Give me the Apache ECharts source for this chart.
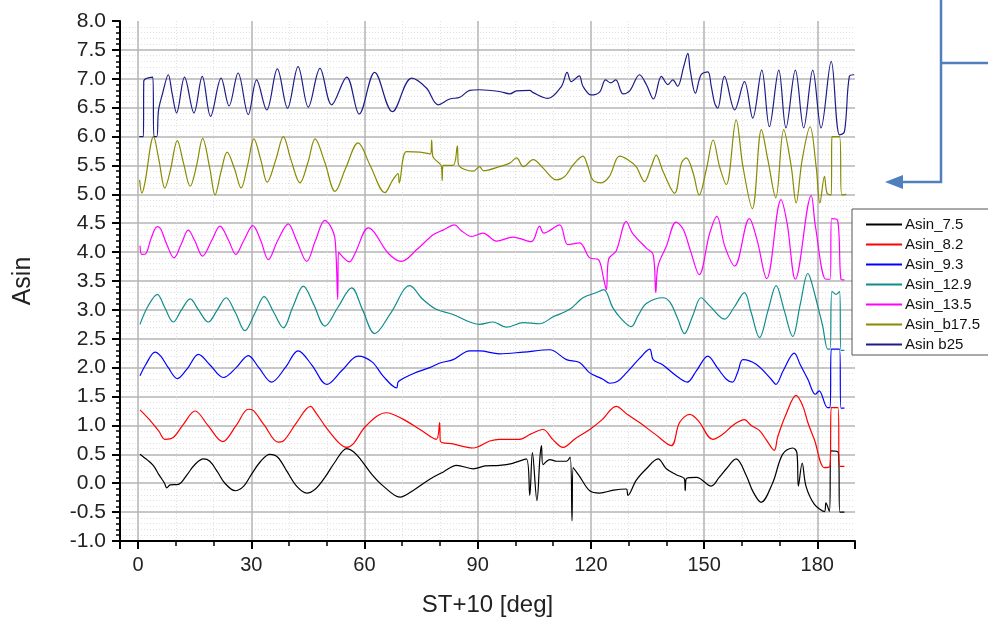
<!DOCTYPE html>
<html><head><meta charset="utf-8">
<script src="https://cdn.jsdelivr.net/npm/echarts@6/dist/echarts.min.js"></script>
<style>html,body{margin:0;padding:0;background:#fff}#c{width:988px;height:622px}</style>
</head><body><div id="c"></div>
<script>
// ---- data ([x deg, Asin]) ----
const seriesNames = ['Asin_7.5','Asin_8.2','Asin_9.3','Asin_12.9','Asin_13.5','Asin_b17.5','Asin b25'];
const seriesColors = ['#000000','#ff0000','#0000ff','#108c8c','#ff00ff','#8a8a00','#1c1c88'];
const xMin = -4.8, xMax = 190, xStep = 30;
const yMin = -1, yMax = 8, yStep = 0.5;

const s75 = [[0.5,0.50],[1.5,0.45],[2.5,0.40],[4.1,0.30],[5.5,0.15],[7.0,0.00],[7.6,-0.08],[8.5,-0.03],[10.7,-0.02],[13,0.15],[15,0.32],[17.3,0.42],[19,0.38],[21,0.20],[23,0.00],[25.7,-0.13],[28,-0.05],[30,0.15],[32.5,0.38],[34.9,0.50],[37,0.45],[39.5,0.20],[42,-0.05],[44.7,-0.17],[47,-0.10],[49.5,0.10],[52,0.35],[55.3,0.60],[57,0.55],[59,0.41],[62,0.15],[65,-0.05],[69.4,-0.24],[73,-0.12],[77.3,0.07],[81,0.20],[84.4,0.31],[88.8,0.25],[92,0.30],[95.8,0.31],[99,0.34],[102.9,0.42],[103.8,-0.21],[104.5,0.53],[105.7,-0.30],[106.5,0.45],[106.9,0.65],[107.3,0.32],[109.1,0.41],[111,0.38],[113.5,0.38],[114.5,0.45],[115,-0.65],[115.3,0.27],[117,0.12],[119.7,-0.13],[122.3,-0.17],[126,-0.12],[129.4,-0.10],[129.8,-0.21],[132,0.05],[134.7,0.25],[137.8,0.42],[140,0.25],[142.5,0.15],[144.8,0.07],[145,-0.13],[145.3,0.08],[148,0.10],[151.9,-0.05],[154,0.10],[155.9,0.25],[158.5,0.42],[161.2,0.13],[163,-0.15],[165.1,-0.33],[168.2,0.01],[170.8,0.50],[173.5,0.61],[174.6,0.53],[175.0,-0.05],[176.0,0.35],[177,-0.05],[179.2,-0.36],[181.9,-0.49],[182.3,-0.34],[183.2,-0.49],[183.7,0.56],[185.6,0.53],[186.0,-0.50],[187.2,-0.50]];
const s82 = [[0.5,1.27],[3,1.10],[5.5,0.90],[7.1,0.76],[9.3,0.79],[12,1.02],[15.1,1.25],[18.5,1.00],[22.4,0.72],[26,1.00],[29.2,1.28],[30.5,1.26],[33.5,1.00],[37.1,0.71],[38.5,0.73],[42,1.05],[45.7,1.33],[47,1.23],[50,0.95],[53.5,0.68],[55.3,0.62],[57,0.68],[60.5,1.00],[65.8,1.22],[70.2,1.11],[74.7,0.93],[79.0,0.76],[79.9,1.05],[80.1,0.73],[83.5,0.68],[88.8,0.61],[93.2,0.73],[95.8,0.76],[101.1,0.76],[104,0.85],[107.3,0.93],[110,0.75],[112.6,0.62],[116,0.78],[119.7,0.93],[123,1.10],[126.7,1.33],[129.5,1.20],[132.9,1.05],[137,0.85],[141.3,0.65],[143.5,1.05],[146.2,1.19],[148.5,1.08],[152.3,0.76],[155,0.85],[157.6,1.00],[160.7,1.10],[162.5,1.00],[164.7,0.91],[166.5,0.75],[168.6,0.57],[169.5,0.80],[171.7,1.19],[174.4,1.52],[176.2,1.33],[177.5,1.05],[179.2,0.76],[181.9,0.27],[183.4,0.30],[183.7,1.31],[185.5,1.31],[185.9,0.29],[187.2,0.29]];
const s93 = [[0.5,1.86],[2,2.05],[4.5,2.27],[6,2.20],[8,2.00],[10.4,1.81],[13,1.98],[16,2.23],[19,2.05],[22.6,1.83],[26,2.00],[29.2,2.21],[32,2.00],[35.4,1.75],[39,2.00],[42.4,2.29],[46,2.05],[50,1.71],[54,1.95],[58.3,2.20],[62,2.10],[65,1.85],[68.5,1.65],[69,1.76],[73,1.90],[77.3,2.00],[80,2.08],[83.5,2.14],[87.9,2.29],[90.5,2.29],[95.8,2.24],[102.1,2.27],[109.1,2.31],[113.5,2.14],[117,2.09],[119.7,1.91],[123.2,1.80],[125,1.73],[127,1.76],[129.4,1.91],[132.9,2.16],[135.6,2.32],[136.5,2.14],[139,2.05],[142.6,1.86],[145.5,1.75],[148,1.95],[151.0,2.20],[153.5,2.00],[155.9,1.80],[157.5,1.75],[159.0,1.94],[160.3,2.14],[163.8,2.06],[167.8,1.80],[169,1.71],[171,1.95],[173.9,2.25],[175.5,2.05],[177.5,1.80],[179.5,1.54],[180.5,1.60],[182.7,1.31],[183.4,1.31],[183.7,2.32],[185.9,2.32],[186.3,1.30],[187.2,1.30]];
const s129 = [[0.5,2.75],[2.5,3.05],[5.1,3.27],[7,3.05],[9.3,2.79],[11.5,3.00],[13.8,3.19],[16,3.00],[18.6,2.79],[21,3.00],[23.3,3.21],[25.8,2.95],[28.3,2.64],[31,2.95],[33.4,3.23],[36,2.95],[38.5,2.69],[41,3.05],[43.8,3.41],[46.5,3.10],[49.5,2.72],[53,3.05],[56.6,3.38],[59.5,3.00],[62.7,2.59],[67,2.95],[72.0,3.42],[75.5,3.18],[79.0,3.01],[83.5,2.92],[87.9,2.79],[90.5,2.75],[94.1,2.79],[97.6,2.70],[102.1,2.78],[106.4,2.76],[110.0,2.88],[114.4,3.01],[117.9,3.21],[121.5,3.30],[123.4,3.35],[125.8,3.04],[128,2.85],[130.7,2.71],[132.5,2.90],[134.7,3.11],[139.1,3.21],[141,3.13],[143,2.85],[144.8,2.59],[147,2.90],[149.2,3.21],[151.5,3.07],[155.4,2.84],[158,3.05],[160.7,3.30],[162.5,2.95],[164.7,2.52],[167,3.00],[169.1,3.42],[171.2,3.00],[173.5,2.54],[175.5,3.10],[177.5,3.63],[178.3,3.52],[180,3.10],[181.4,2.73],[182.8,2.32],[183.4,2.32],[183.9,3.32],[185.0,3.27],[185.9,3.32],[186.3,2.30],[187.2,2.30]];
const s135 = [[0.5,4.11],[1.0,3.96],[2,3.97],[3.5,4.25],[5.1,4.44],[6,4.40],[7.5,4.15],[9.5,3.90],[11.5,4.15],[13.3,4.38],[15,4.20],[17.1,3.93],[19.5,4.20],[21.7,4.45],[24,4.20],[25.9,3.96],[28,4.20],[30.4,4.46],[32.5,4.20],[34.5,3.87],[37,4.20],[39.8,4.49],[42,4.20],[44.7,3.84],[47,4.20],[49.5,4.55],[51,4.45],[52.2,4.22],[52.9,3.18],[53.1,4.00],[56.0,3.83],[57.5,3.98],[61.0,4.42],[62.5,4.35],[66.3,3.98],[69.8,3.84],[73.8,4.04],[78.2,4.30],[80.8,4.38],[83.9,4.47],[85.5,4.38],[88.4,4.27],[91.4,4.33],[95.0,4.19],[99.4,4.26],[104.2,4.18],[106.4,4.45],[107.5,4.33],[111.7,4.47],[113.9,4.13],[117.0,4.16],[119.7,3.90],[122,3.87],[123.4,3.53],[124.1,3.35],[124.7,3.88],[126.7,4.02],[129.4,4.53],[131,4.33],[134.7,4.07],[136.5,3.96],[137.2,3.30],[137.8,3.76],[140.0,4.10],[142.6,4.52],[144.5,4.39],[146.5,4.00],[148.7,3.61],[151.5,4.33],[153.4,4.62],[155.5,4.10],[158.1,3.76],[162.0,4.58],[164,4.22],[166.6,3.54],[170.4,4.91],[172,4.50],[174.2,3.53],[178.4,4.98],[179.5,4.45],[182.3,3.53],[183.4,3.53],[183.8,4.58],[185.4,4.55],[186.3,3.53],[187.2,3.52]];
const s175 = [[0.4,5.25],[1.0,5.02],[1.8,5.20],[4.1,6.00],[5.5,5.60],[7.1,5.11],[8.5,5.40],[10.4,5.93],[12,5.55],[13.8,5.14],[15.5,5.50],[17.1,5.97],[19,5.45],[20.4,4.99],[22,5.40],[23.6,5.73],[25.5,5.45],[27.3,5.11],[29,5.50],[30.7,5.96],[32.5,5.60],[34.2,5.21],[36.5,5.60],[38.5,6.00],[40.5,5.60],[42.9,5.20],[45,5.55],[46.9,5.96],[49.5,5.55],[52.2,5.05],[55,5.45],[58.3,5.89],[61.5,5.50],[65.4,5.03],[67.5,5.25],[68.9,5.36],[69.2,5.20],[71.1,5.74],[74.7,5.73],[77.5,5.70],[77.8,5.94],[78.1,5.66],[80.4,5.48],[80.6,5.24],[80.8,5.50],[83.5,5.50],[84.6,5.84],[84.9,5.52],[88.8,5.40],[90.5,5.48],[91.5,5.41],[95.8,5.48],[98.5,5.54],[100.3,5.63],[102.1,5.48],[104.7,5.60],[107.4,5.45],[110.9,5.25],[113.1,5.31],[115.3,5.51],[117.9,5.66],[119.2,5.48],[120.5,5.25],[122.7,5.20],[124.9,5.31],[127.6,5.66],[129.8,5.60],[132.0,5.48],[134.2,5.22],[136.0,5.48],[137.3,5.68],[139.1,5.40],[142.2,5.02],[144.0,5.54],[145.3,5.63],[147.1,5.37],[148.7,4.99],[150.6,5.43],[152.4,5.94],[154.1,5.48],[155.9,5.17],[158.5,6.29],[160.3,5.48],[162.8,4.75],[165.2,6.12],[166.9,5.60],[169.0,4.94],[171.1,6.12],[173.1,5.48],[174.4,4.85],[176.0,5.60],[178.1,6.17],[179.7,5.48],[180.7,4.85],[181.9,5.31],[182.6,5.02],[183.7,4.99],[183.9,6.00],[185.9,6.00],[186.5,4.99],[187.7,5.00]];
const s25 = [[0.3,6.00],[1.4,6.00],[1.5,6.96],[3.9,7.03],[4.2,6.00],[4.95,6.00],[5.4,6.45],[6.5,6.75],[8.0,7.07],[9.0,6.75],[10.2,6.41],[12.3,7.03],[14.8,6.41],[17.0,7.04],[19.2,6.35],[22.0,7.01],[24.1,6.53],[26.5,7.10],[29.2,6.38],[31.4,6.98],[34.1,6.46],[36.9,7.17],[39.6,6.49],[42.4,7.21],[45.1,6.51],[48.2,7.18],[51.3,6.55],[55.3,7.03],[58.6,6.39],[62.7,7.11],[67.4,6.43],[72.5,7.01],[76.4,6.84],[79.5,6.55],[82.6,6.65],[85.3,6.68],[87.9,6.80],[90.5,6.81],[95.8,6.78],[98.5,6.74],[100.3,6.79],[103.8,6.80],[104.7,6.76],[108.6,6.66],[112.2,6.87],[113.7,7.11],[114.8,6.95],[116.9,7.05],[117.9,6.87],[120.1,6.72],[122.3,6.77],[123.9,6.98],[125.2,6.93],[126.6,6.98],[128.5,6.74],[130.3,6.79],[132.9,7.07],[134.7,6.90],[136.6,6.65],[138.7,7.04],[140.4,6.90],[141.7,6.98],[143.0,6.87],[144.6,7.21],[145.7,7.44],[146.3,7.16],[147.7,6.75],[149.2,7.07],[151.0,7.12],[151.9,6.87],[152.8,6.58],[153.6,6.49],[155.4,7.04],[158.1,6.46],[160.7,6.95],[162.9,6.32],[165.3,7.15],[167.3,6.17],[169.8,7.15],[171.7,6.15],[174.2,7.15],[176.4,6.15],[178.8,7.15],[181.0,6.15],[183.7,7.30],[185.9,6.03],[187.2,6.08],[188.5,7.04],[189.8,7.07]];

const allData = [s75, s82, s93, s129, s135, s175, s25];

const chart = echarts.init(document.getElementById('c'), null, {renderer: 'canvas'});
const FONT = '"Liberation Sans", Arial, sans-serif';
const majorGrid = {color: '#b4b4b4', width: 1.5};
const minorGrid = {color: '#e2e2e2', width: 1, type: [1, 2]};

const option = {
  animation: false,
  backgroundColor: '#ffffff',
  textStyle: {fontFamily: FONT},
  grid: {left: 120, right: 133, top: 21, bottom: 80, containLabel: false},
  xAxis: {
    type: 'value', min: xMin, max: xMax, minInterval: xStep, maxInterval: xStep,
    name: 'ST+10 [deg]', nameLocation: 'middle', nameGap: 52,
    nameTextStyle: {fontSize: 24, color: '#222', fontFamily: FONT},
    axisLine: {show: true, onZero: false, lineStyle: {color: '#000', width: 2}},
    axisTick: {show: true, length: 8, lineStyle: {color: '#000', width: 2}},
    minorTick: {show: true, splitNumber: 3, length: 5, lineStyle: {color: '#000', width: 1.5}},
    axisLabel: {fontSize: 20, color: '#222', margin: 14, fontFamily: FONT, showMinLabel: false, showMaxLabel: false,
      formatter: v => (Math.abs(v % xStep) < 1e-6 ? String(v) : '')},
    splitLine: {show: true, showMinLine: false, showMaxLine: false, lineStyle: majorGrid},
    minorSplitLine: {show: true, lineStyle: minorGrid}
  },
  yAxis: {
    type: 'value', min: yMin, max: yMax, interval: yStep,
    name: 'Asin', nameLocation: 'middle', nameGap: 84,
    nameTextStyle: {fontSize: 25, color: '#222', fontFamily: FONT},
    axisLine: {show: true, onZero: false, lineStyle: {color: '#000', width: 2}},
    axisTick: {show: true, length: 8, lineStyle: {color: '#000', width: 2}},
    minorTick: {show: true, splitNumber: 5, length: 4, lineStyle: {color: '#000', width: 1.5}},
    axisLabel: {fontSize: 21, color: '#222', margin: 14, fontFamily: FONT, formatter: v => v.toFixed(1)},
    splitLine: {show: true, showMinLine: false, showMaxLine: false, lineStyle: majorGrid},
    minorSplitLine: {show: true, lineStyle: minorGrid}
  },
  legend: {
    orient: 'vertical', left: 852, top: 209,
    padding: [8, 40, 3, 14], itemGap: 5, itemWidth: 36, itemHeight: 2, icon: 'rect',
    borderColor: '#555', borderWidth: 1, backgroundColor: '#fff',
    textStyle: {fontSize: 15, color: '#111', lineHeight: 15, fontFamily: FONT, padding: [0,0,0,-2]},
    data: seriesNames
  },
  graphic: [
    {type: 'polyline', shape: {points: [[941, 0], [941, 182], [901, 182]]}, style: {stroke: '#4f7fbd', lineWidth: 2.5, fill: null}},
    {type: 'line', shape: {x1: 941, y1: 63, x2: 990, y2: 63}, style: {stroke: '#4f7fbd', lineWidth: 2.5}},
    {type: 'polygon', shape: {points: [[885, 182], [903, 175], [903, 189]]}, style: {fill: '#4f7fbd'}}
  ],
  series: seriesNames.map((n, i) => ({
    name: n, type: 'line', data: allData[i], showSymbol: false, symbol: 'none',
    smooth: 0.35,
    lineStyle: {color: seriesColors[i], width: 1.2},
    itemStyle: {color: seriesColors[i]},
    z: 3
  }))
};
chart.setOption(option);
</script></body></html>
